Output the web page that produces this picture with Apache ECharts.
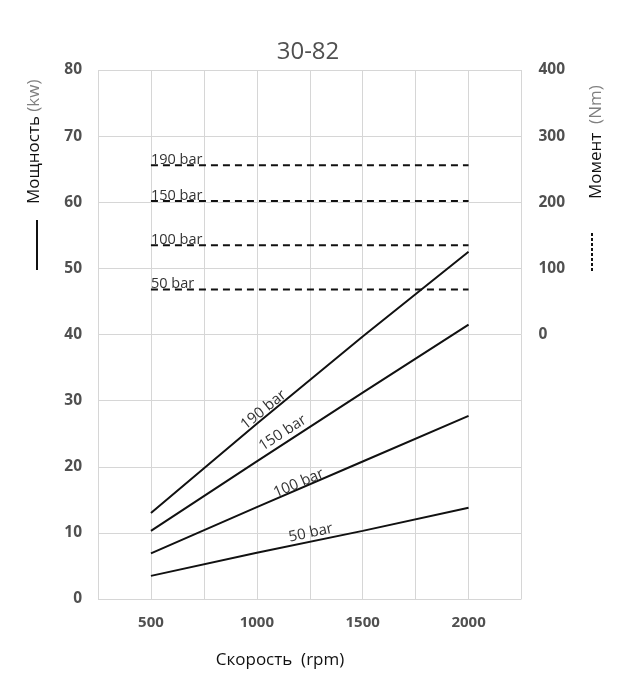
<!DOCTYPE html>
<html><head><meta charset="utf-8">
<script src="https://cdn.jsdelivr.net/npm/echarts@6/dist/echarts.min.js"></script>
<style>html,body{margin:0;padding:0;background:#fff}#c{width:620px;height:695px}</style>
</head><body><div id="c"></div>
<script>
// Data
const rpm = [500, 1000, 1500, 2000];
const power190 = [13.0, 26.5, 39.7, 52.5];
const power150 = [10.3, 20.8, 31.2, 41.5];
const power100 = [6.9, 13.9, 20.8, 27.7];
const power50  = [3.5, 7.0, 10.3, 13.8];
const torqueRpm = [500, 2000];
const torque190 = 256;
const torque150 = 202;
const torque100 = 135;
const torque50  = 68;
const pressureLabels = ['190 bar', '150 bar', '100 bar', '50 bar'];
// label anchor points along the power curves [rpm, kW]
const powerLabelPos = [[1032, 28.6], [1122, 25.1], [1198, 17.5], [1255, 10.0]];
const powerLabelRot = [39, 33, 23, 12];
const xTicks = [500, 1000, 1500, 2000];
const leftTicks = [0, 10, 20, 30, 40, 50, 60, 70, 80];
const rightTicks = [0, 100, 200, 300, 400];

const FONT = '"Open Sans", "Liberation Sans", sans-serif';
const chart = echarts.init(document.getElementById('c'), null, {renderer: 'canvas'});

function powerSeries(d) {
  return {type: 'line', xAxisIndex: 0, yAxisIndex: 0, symbol: 'none', silent: true,
    lineStyle: {color: '#111', width: 2}, data: rpm.map((r, i) => [r, d[i]])};
}
function torqueSeries(v, lbl) {
  return {type: 'line', xAxisIndex: 0, yAxisIndex: 1, symbol: 'none', silent: true,
    lineStyle: {color: '#111', width: 2, type: [7, 5]}, data: torqueRpm.map(r => [r, v]),
    markPoint: {symbol: 'circle', symbolSize: 0, silent: true,
      data: [{coord: [torqueRpm[0], v], label: {show: true, formatter: lbl, position: 'inside',
        align: 'left', verticalAlign: 'bottom', offset: [0, 2], color: '#333', fontSize: 14.5, fontFamily: FONT}}]}};
}
const torqueVals = [torque190, torque150, torque100, torque50];

chart.setOption({
  animation: false,
  title: {text: '30-82', left: 303, top: 35, textAlign: 'center',
    textStyle: {fontSize: 24, fontWeight: 'normal', color: '#505050', fontFamily: FONT}},
  grid: {left: 98, right: 98.5, top: 70, bottom: 96, containLabel: false},
  xAxis: {type: 'value', min: 250, max: 2250, interval: 250,
    axisLine: {show: false}, axisTick: {show: false},
    splitLine: {show: true, lineStyle: {color: '#d6d6d6', width: 1}},
    axisLabel: {margin: 16, color: '#505050', fontWeight: 'bold', fontSize: 15, fontFamily: FONT,
      formatter: v => xTicks.indexOf(v) >= 0 ? String(v) : ''}},
  yAxis: [
    {type: 'value', min: 0, max: 80, interval: 10, position: 'left',
      axisLine: {show: false}, axisTick: {show: false},
      splitLine: {show: true, lineStyle: {color: '#d6d6d6', width: 1}},
      axisLabel: {margin: 16, color: '#505050', fontWeight: 'bold', fontSize: 15.5, fontFamily: FONT,
        formatter: v => leftTicks.indexOf(v) >= 0 ? String(v) : ''}},
    {type: 'value', min: -400, max: 400, interval: 100, position: 'right',
      axisLine: {show: false}, axisTick: {show: false}, splitLine: {show: false},
      axisLabel: {margin: 17, color: '#505050', fontWeight: 'bold', fontSize: 15.5, fontFamily: FONT,
        formatter: v => rightTicks.indexOf(v) >= 0 ? String(v) : ''}}
  ],
  series: [
    powerSeries(power190), powerSeries(power150), powerSeries(power100), powerSeries(power50),
    ...torqueVals.map((v, i) => torqueSeries(v, pressureLabels[i])),
    {type: 'scatter', xAxisIndex: 0, yAxisIndex: 0, symbolSize: 0, silent: true,
      itemStyle: {color: '#333', opacity: 1},
      data: powerLabelPos.map((p, i) => ({value: p, label: {show: true, position: 'inside',
        formatter: pressureLabels[i], rotate: powerLabelRot[i], color: '#333', opacity: 1, fontSize: 15, fontFamily: FONT}}))}
  ],
  graphic: [
    {type: 'text', x: 26, y: 204, rotation: Math.PI / 2,
      style: {text: '{a|Мощность} {b|(kw)}', fill: '#111', font: '17px ' + FONT, textAlign: 'left', textVerticalAlign: 'top',
        rich: {a: {fontSize: 17, fill: '#111', fontFamily: FONT}, b: {fontSize: 17, fill: '#7f7f7f', fontFamily: FONT}}}},
    {type: 'line', shape: {x1: 37, y1: 220, x2: 37, y2: 270}, style: {stroke: '#111', lineWidth: 2}},
    {type: 'text', x: 588, y: 199, rotation: Math.PI / 2,
      style: {text: '{a|Момент}  {b|(Nm)}', fill: '#111', font: '17px ' + FONT, textAlign: 'left', textVerticalAlign: 'top',
        rich: {a: {fontSize: 17, fill: '#111', fontFamily: FONT}, b: {fontSize: 17, fill: '#7f7f7f', fontFamily: FONT}}}},
    {type: 'line', shape: {x1: 592, y1: 233, x2: 592, y2: 273}, style: {stroke: '#111', lineWidth: 2, lineDash: [3, 2]}},
    {type: 'text', x: 280, y: 660,
      style: {text: 'Скорость  (rpm)', fill: '#111', font: '17px ' + FONT, textAlign: 'center', textVerticalAlign: 'middle'}}
  ]
});
</script>
</body></html>
